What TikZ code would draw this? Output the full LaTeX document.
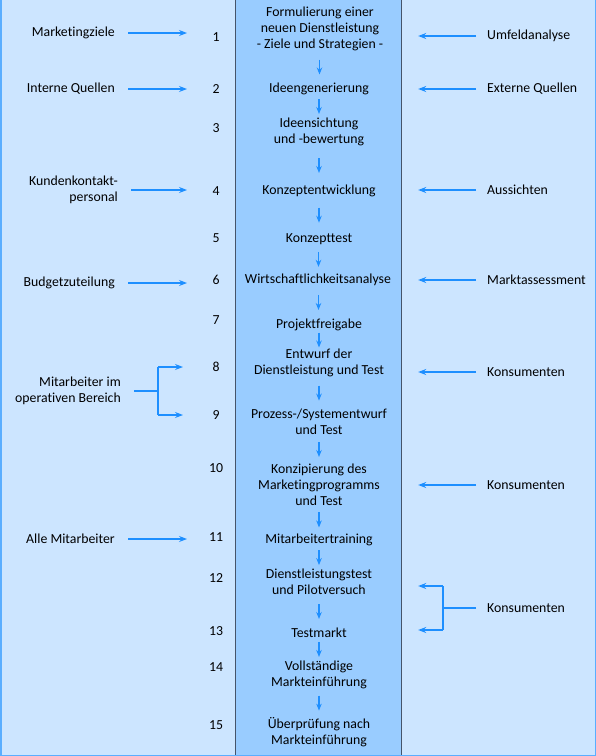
\documentclass[tikz,border=0pt]{standalone}
\usepackage{fontspec}
\setmainfont{Carlito}[Ligatures=NoCommon]
\usetikzlibrary{arrows.meta,positioning,calc}
\definecolor{paleblue}{HTML}{CCE5FF}
\definecolor{colblue}{HTML}{99CCFF}
\definecolor{flowblue}{HTML}{1E8FFF}
\definecolor{edgegray}{HTML}{45546A}
\definecolor{rimblue}{HTML}{5AAEFF}

\begin{document}
\begin{tikzpicture}[x=1pt, y=-1pt,
    every node/.style={font=\fontsize{13.8}{16}\selectfont, inner sep=0pt},
    stage/.style={align=center},
    src/.style={anchor=east, align=right},
    ext/.style={anchor=west, align=left},
    link/.style={flowblue, line width=1.1pt},
    feed/.style={-{Stealth[length=8pt,width=6pt]}, link},
    flow/.style={-{Stealth[length=7pt,width=5.5pt]}, link}]
    \useasboundingbox (0,0) rectangle (596,756);
    \fill[paleblue] (0,0) rectangle (596,756);
    % middle column
    \node[fill=colblue, minimum width=165pt, minimum height=756pt] (col) at (318.5,378) {};
    \draw[edgegray, line width=1.3pt] (col.north west) -- (col.south west)
        (col.north east) -- (col.south east);
    \draw[rimblue, line width=1.5pt] (0.75,0) -- (0.75,755.25) -- (595.25,755.25) -- (595.25,0);

    % stages
    \node[stage] (s1) at (320,29) {Formulierung einer\\neuen Dienstleistung\\- Ziele und Strategien -};
    \node[stage] (s2) at (319,89) {Ideengenerierung};
    \node[stage] (s3) at (319,132) {Ideensichtung\\und -bewertung};
    \node[stage] (s4) at (319,191) {Konzeptentwicklung};
    \node[stage] (s5) at (319,239) {Konzepttest};
    \node[stage] (s6) at (318,280) {Wirtschaftlichkeitsanalyse};
    \node[stage] (s7) at (319,325) {Projektfreigabe};
    \node[stage] (s8) at (319,363) {Entwurf der\\Dienstleistung und Test};
    \node[stage] (s9) at (319,422) {Prozess-/Systementwurf\\und Test};
    \node[stage] (s10) at (319,485) {Konzipierung des\\Marketingprogramms\\und Test};
    \node[stage] (s11) at (319,540) {Mitarbeitertraining};
    \node[stage] (s12) at (319,582) {Dienstleistungstest\\und Pilotversuch};
    \node[stage] (s13) at (319,633) {Testmarkt};
    \node[stage] (s14) at (319,675) {Vollständige\\Markteinführung};
    \node[stage] (s15) at (319,732) {Überprüfung nach\\Markteinführung};
    \foreach \i [evaluate=\i as \j using int(\i+1)] in {1,...,14}
        \draw[flow] ($(s\i.south)!.5!(s\j.north)$) ++(0,-7.5) -- ++(0,15);

    % numbers
    \foreach \k/\y in {1/37,2/89,3/128,4/191,5/238,6/280,7/320,8/367,9/415,
                       10/468,11/537,12/578,13/631,14/667,15/725}
        \node (n\k) at (216,\y) {\k};

    % internal inputs
    \node[src] (l1) at (115,33) {Marketingziele};
    \node[src] (l2) at (115,89) {Interne Quellen};
    \node[src] (l4) at (118,190) {Kundenkontakt-\\personal};
    \node[src] (l6) at (115,283) {Budgetzuteilung};
    \node[src] (l8) at (121,391) {Mitarbeiter im\\operativen Bereich};
    \node[src] (l11) at (115,539) {Alle Mitarbeiter};
    \foreach \k in {1,2,4,6,11}
        \draw[feed, shorten <=13pt, shorten >=29pt] (l\k.east) -- (l\k.east -| n\k.center);
    \coordinate[right=37pt of l8.east] (lfork);
    \draw[link] ([xshift=13pt]l8.east) -- (lfork);
    \draw[link] (lfork |- n8) -- (lfork |- n9);
    \draw[feed, shorten >=33pt] (lfork |- n8) -- (n8.center);
    \draw[feed, shorten >=33pt] (lfork |- n9) -- (n9.center);

    % external inputs
    \node[ext] (r1) at (487,36) {Umfeldanalyse};
    \node[ext] (r2) at (487,89) {Externe Quellen};
    \node[ext] (r4) at (487,190) {Aussichten};
    \node[ext] (r6) at (487,280) {Marktassessment};
    \node[ext] (r8) at (487,372) {Konsumenten};
    \node[ext] (r10) at (487,485) {Konsumenten};
    \node[ext] (r12) at (487,608) {Konsumenten};
    \foreach \k in {1,2,4,6,8,10}
        \draw[feed, shorten <=11pt, shorten >=17pt] (r\k.west) -- (r\k.west -| col.east);
    \coordinate[left=44pt of r12.west] (rfork);
    \draw[link] ([xshift=-11pt]r12.west) -- (rfork);
    \draw[link] ($(rfork |- s12)+(0,4)$) -- ($(rfork |- s13)+(0,-3)$);
    \draw[feed, shorten >=17pt] ($(rfork |- s12)+(0,4)$) -- ($(s12 -| col.east)+(0,4)$);
    \draw[feed, shorten >=17pt] ($(rfork |- s13)+(0,-3)$) -- ($(s13 -| col.east)+(0,-3)$);
\end{tikzpicture}
\end{document}
